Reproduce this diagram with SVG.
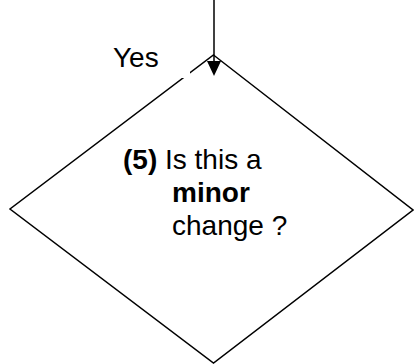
<svg xmlns="http://www.w3.org/2000/svg" width="414" height="364" viewBox="0 0 414 364">
<defs>
<style>
.t{font-family:"Liberation Sans",Arial,sans-serif;font-size:28px;fill:#000}
.b{font-weight:bold}
.s{fill:none;stroke:#000;stroke-width:1.5}
</style>
<marker id="ah" viewBox="0 0 14 15" refX="7" refY="15" markerWidth="14" markerHeight="15" markerUnits="userSpaceOnUse" orient="auto-start-reverse">
<path d="M0,0 L14,0 L7,15 Z" fill="#000"/>
</marker>
</defs>
<rect width="414" height="364" fill="#fff"/>
<g id="node5">
<polygon class="s" points="213.5,55 413,210 213.5,363 10,209"/>
<text class="t" x="123" y="169"><tspan class="b">(5)</tspan> Is this a</text>
<text class="t b" x="172" y="202">minor</text>
<text class="t" x="172" y="235">change ?</text>
</g>
<g id="connectors">
<line class="s" x1="214" y1="0" x2="214" y2="62"/>
<path d="M207,61 L221,61 L214,76 Z" fill="#000"/>
<g id="label-yes">
<rect x="100" y="38" width="90" height="40" fill="#fff"/>
<text class="t" x="113" y="67">Yes</text>
</g>
</g>
</svg>
